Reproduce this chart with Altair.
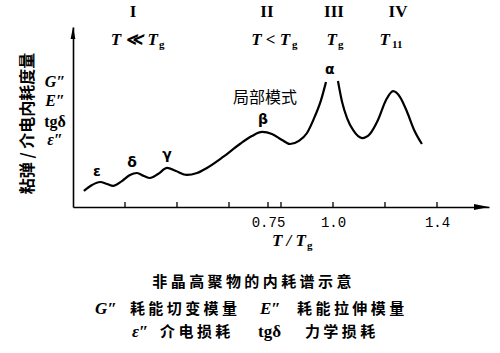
import altair as alt
import pandas as pd

# ---- curve (schematic loss spectrum), x = T/Tg, y = relative loss ----
curve_x = [0.042, 0.073, 0.104, 0.131, 0.154, 0.188, 0.219, 0.246, 0.273, 0.296,
           0.327, 0.362, 0.396, 0.438, 0.477, 0.515, 0.577, 0.642, 0.688, 0.727,
           0.765, 0.804, 0.835, 0.869, 0.900, 0.931, 0.954, 0.973,
           1.019, 1.035, 1.054, 1.077, 1.112, 1.142, 1.173, 1.204, 1.231, 1.258,
           1.285, 1.312, 1.342]
curve_y = [8.9, 12.2, 13.9, 12.8, 11.7, 14.4, 17.8, 18.9, 17.2, 16.1,
           18.3, 21.7, 20.0, 17.8, 18.9, 21.7, 27.8, 35.0, 39.4, 41.7,
           40.6, 37.2, 35.0, 36.7, 41.1, 50.6, 59.4, 69.4,
           70.0, 58.3, 49.4, 42.8, 38.3, 40.6, 48.3, 59.4, 64.4, 61.1,
           52.8, 42.8, 35.0]
curve_seg = ["a"] * 28 + ["b"] * 13

tick_values = [0.2, 0.4, 0.6, 0.75, 0.8, 1.0, 1.2, 1.4]
tick_labels = [0.75, 1.0, 1.4]

roman_text = ["I", "II", "III", "IV"]
roman_x = [0.231, 0.746, 1.004, 1.25]
temp_main = ["T ≪ T", "T < T", "T", "T"]
temp_main_x = [0.327, 0.835, 1.015, 1.219]
temp_sub = ["g", "g", "g", "11"]
temp_sub_x = [0.331, 0.842, 1.019, 1.227]

greek_text = ["ε", "δ", "γ", "β", "α"]
greek_x = [0.092, 0.227, 0.362, 0.731, 0.988]
greek_y = [19.4, 24.4, 28.9, 48.3, 76.1]

left_italic = ["G″", "E″", "ε″"]
left_italic_y = [69.4, 58.9, 37.2]
left_upright = ["tgδ"]
left_upright_y = [47.2]

cap1 = " ".join("非晶高聚物的内耗谱示意")
cap2_text = ["G″", " ".join("耗能切变模量"), "E″", " ".join("耗能拉伸模量")]
cap2_x = [0.085, 0.219, 0.719, 0.862]
cap2_kind = ["i", "c", "i", "c"]
cap3_text = ["ε″", " ".join("介电损耗"), "tgδ", " ".join("力学损耗")]
cap3_x = [0.227, 0.335, 0.712, 0.892]
cap3_kind = ["i", "c", "u", "c"]

XD = [0, 1.6]
YD = [0, 100]
xs = alt.Scale(domain=XD)
ys = alt.Scale(domain=YD)

curve_df = pd.DataFrame({"x": curve_x, "y": curve_y, "seg": curve_seg})
line = alt.Chart(curve_df).mark_line(color="black", strokeWidth=2.2, interpolate="monotone").encode(
    x=alt.X("x:Q", scale=xs, axis=alt.Axis(values=tick_labels, ticks=False, grid=False,
            labelExpr="datum.value == 1 ? '1.0' : format(datum.value, '.2~f')",
            labelFont="Liberation Mono", labelFontSize=14, labelColor="black", labelPadding=8,
            domainColor="black", domainWidth=1.6, title=None)),
    y=alt.Y("y:Q", scale=ys, axis=alt.Axis(labels=False, ticks=False, grid=False,
            domainColor="black", domainWidth=1.6, title=None)),
    detail="seg:N",
)

tick_df = pd.DataFrame({"x": tick_values, "y": [0] * len(tick_values), "y2": [2.8] * len(tick_values)})
ticks = alt.Chart(tick_df).mark_rule(color="black", strokeWidth=1.3).encode(
    x=alt.X("x:Q", scale=xs), y=alt.Y("y:Q", scale=ys), y2="y2:Q")

arrow_x = alt.Chart(pd.DataFrame({"x": [1.6], "y": [0]})).mark_point(
    shape="M0,0 L-2,-0.4 L-2,0.4 Z", filled=True, color="black", size=225, opacity=1).encode(
    x=alt.X("x:Q", scale=xs), y=alt.Y("y:Q", scale=ys))
arrow_y = alt.Chart(pd.DataFrame({"x": [0], "y": [100]})).mark_point(
    shape="M0,0 L-0.4,2 L0.4,2 Z", filled=True, color="black", size=144, opacity=1).encode(
    x=alt.X("x:Q", scale=xs), y=alt.Y("y:Q", scale=ys))


def txt(texts, xv, yv, **kw):
    df = pd.DataFrame({"x": xv, "y": yv, "t": texts})
    base = dict(color="black")
    base.update(kw)
    return alt.Chart(df).mark_text(**base).encode(
        x=alt.X("x:Q", scale=xs), y=alt.Y("y:Q", scale=ys), text="t:N")


serif = "Liberation Serif"
cjk = "Noto Sans CJK SC"

layers = [
    line, ticks, arrow_x, arrow_y,
    txt(roman_text, roman_x, [108.1] * 4, font=serif, fontSize=17, fontWeight="bold",
        align="center", baseline="middle"),
    txt(temp_main, temp_main_x, [90] * 4, font=serif, fontSize=17, fontStyle="italic",
        fontWeight="bold", align="right", baseline="alphabetic"),
    txt(temp_sub, temp_sub_x, [88.6] * 4, font=serif, fontSize=11, fontWeight="bold",
        align="left", baseline="alphabetic"),
    txt(greek_text, greek_x, greek_y, font="DejaVu Sans", fontSize=14, fontWeight="bold",
        align="center", baseline="middle"),
    txt(["局部模式"], [0.738], [60.6], font=cjk, fontSize=16, align="center", baseline="middle"),
    txt(left_italic, [-0.069] * 3, left_italic_y, font=serif, fontSize=16, fontStyle="italic",
        fontWeight="bold", align="center", baseline="middle"),
    txt(left_upright, [-0.069], left_upright_y, font=serif, fontSize=16,
        fontWeight="bold", align="center", baseline="middle"),
    txt(["粘弹 / 介电内耗度量"], [-0.173], [46.4], font=cjk, fontSize=16, fontWeight="bold",
        angle=270, align="center", baseline="middle"),
    txt(["T / T"], [0.896], [-21.7], font=serif, fontSize=17, fontStyle="italic",
        fontWeight="bold", align="right", baseline="alphabetic"),
    txt(["g"], [0.9], [-23.3], font=serif, fontSize=11, fontWeight="bold",
        align="left", baseline="alphabetic"),
    txt([cap1], [0.688], [-41.9], font=cjk, fontSize=15, fontWeight="bold",
        align="center", baseline="middle"),
]
styles = {
    "i": dict(font=serif, fontSize=17, fontStyle="italic", fontWeight="bold"),
    "u": dict(font=serif, fontSize=17, fontWeight="bold"),
    "c": dict(font=cjk, fontSize=15, fontWeight="bold"),
}
for texts, xv, kinds, yv in [(cap2_text, cap2_x, cap2_kind, -56.4), (cap3_text, cap3_x, cap3_kind, -69.7)]:
    for k, st in styles.items():
        tt = [t for t, kk in zip(texts, kinds) if kk == k]
        xx = [x for x, kk in zip(xv, kinds) if kk == k]
        if tt:
            layers.append(txt(tt, xx, [yv] * len(tt), align="left", baseline="middle", **st))

chart = alt.layer(*layers).properties(
    width=416, height=180,
    autosize=alt.AutoSizeParams(type="none"),
    padding={"left": 73, "top": 27, "right": 11, "bottom": 146},
    background="white",
).configure_view(stroke=None)

chart.save("out.html", embed_options={"renderer": "svg", "actions": False})
